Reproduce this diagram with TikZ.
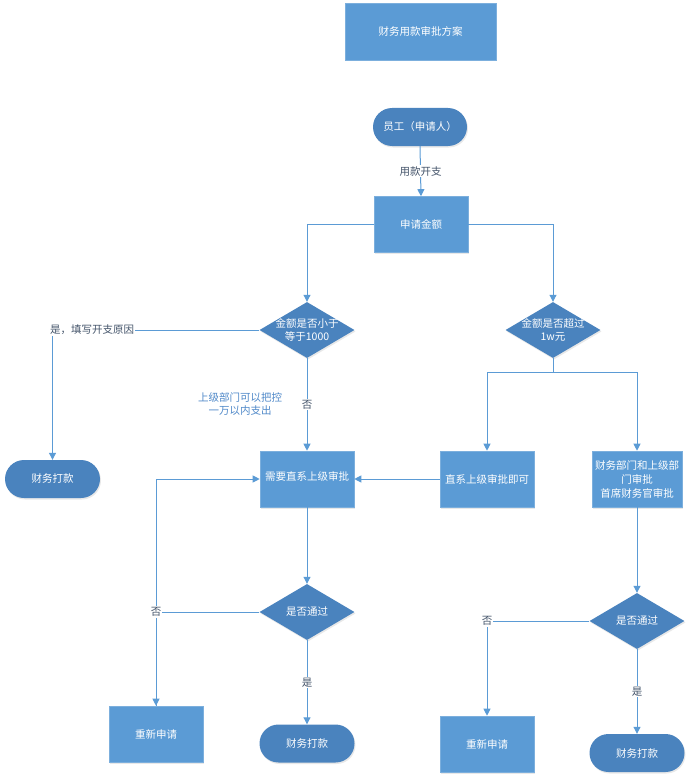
\documentclass[tikz,border=0pt]{standalone}
\usepackage{fontspec}
\setmainfont{Noto Sans CJK SC}
\usetikzlibrary{shapes.geometric,arrows.meta,shadows}
\definecolor{rectc}{HTML}{5B9BD5}
\definecolor{darkc}{HTML}{4A83BE}
\definecolor{linec}{HTML}{5B9BD5}
\definecolor{labelc}{HTML}{44546A}
\definecolor{notec}{HTML}{4F88C8}
\begin{document}
\begin{tikzpicture}[x=1pt,y=-1pt,
  font=\fontsize{10.5}{13}\selectfont,
  shade/.style={drop shadow={opacity=0.18,shadow xshift=1pt,shadow yshift=-1.5pt}},
  box/.style={rectangle, fill=rectc, draw=rectc!80!white, line width=0.6pt, text=white,
    minimum width=94pt, minimum height=56pt, inner sep=2pt, align=center, shade},
  term/.style={rectangle, rounded corners=19pt, fill=darkc, text=white,
    minimum width=95pt, minimum height=38pt, inner sep=2pt, align=center, shade},
  dia/.style={diamond, fill=darkc, minimum width=95pt, minimum height=56pt,
    inner sep=0pt, shade},
  dtext/.style={text=white, align=center, inner sep=0pt},
  arr/.style={draw=linec, line width=1pt, -{Triangle[width=7pt,length=7pt]}},
  ln/.style={draw=linec, line width=1pt},
  lab/.style={fill=white, text=labelc, inner sep=1pt}]
\useasboundingbox (0,0) rectangle (692,781);

% nodes
\node[box, minimum width=151pt, minimum height=57pt] (title) at (420.5,31.5) {财务用款审批方案};
\node[term, minimum width=94pt] (emp) at (420,127) {员工（申请人）};
\node[box] (apply) at (421,224.5) {申请金额};
\node[dia, label={[dtext]center:金额是否小于\\等于1000}] (d1) at (307,330) {};
\node[dia, label={[dtext]center:金额是否超过\\1w元}] (d2) at (553,330) {};
\node[term] (pay1) at (52.5,479) {财务打款};
\node[box] (need) at (307,479) {\raisebox{6pt}{需要直系上级审批}};
\node[box] (direct) at (487,479) {直系上级审批即可};
\node[box, minimum width=90pt, text width=86pt, font=\fontsize{10.5}{14}\selectfont] (cfo) at (637,479) {财务部门和上级部\\门审批\\首席财务官审批};
\node[dia, label={[dtext]center:是否通过}] (d3) at (307,612) {};
\node[box] (redo1) at (156,734) {重新申请};
\node[term] (pay2) at (307,743.5) {财务打款};
\node[dia, label={[dtext]center:是否通过}] (d4) at (637,621) {};
\node[box] (redo2) at (487,744) {重新申请};
\node[term] (pay3) at (637,753) {财务打款};
\node[text=notec, align=center, inner sep=0pt] (note) at (240,404) {上级部门可以把控\\一万以内支出};
\coordinate (split) at (553,372);

% connectors
\draw[arr] (emp.south) -- node[lab] {用款开支} (apply.north);
\draw[arr] (apply.west) -| (d1.north);
\draw[arr] (apply.east) -| (d2.north);
\draw[arr] (d1.west) -| node[pos=0.5, lab, anchor=west, xshift=-4pt] {是，填写开支原因} (pay1.north);
\draw[arr] (d1.south) -- node[lab] {否} (need.north);
\draw[ln] (d2.south) -- (split);
\draw[arr] (split) -| (direct.north);
\draw[arr] (split) -| (cfo.north);
\draw[arr] (direct.west) -- (need.east);
\draw[arr] (need.south) -- (d3.north);
\draw[arr] (redo1.north) |- (need.west);
\draw[arr] (d3.west) -| node[pos=0.5, lab] {否} (redo1.north);
\draw[arr] (d3.south) -- node[lab] {是} (pay2.north);
\draw[arr] (cfo.south) -- (d4.north);
\draw[arr] (d4.west) -| node[pos=0.5, lab] {否} (redo2.north);
\draw[arr] (d4.south) -- node[lab] {是} (pay3.north);
\end{tikzpicture}
\end{document}
